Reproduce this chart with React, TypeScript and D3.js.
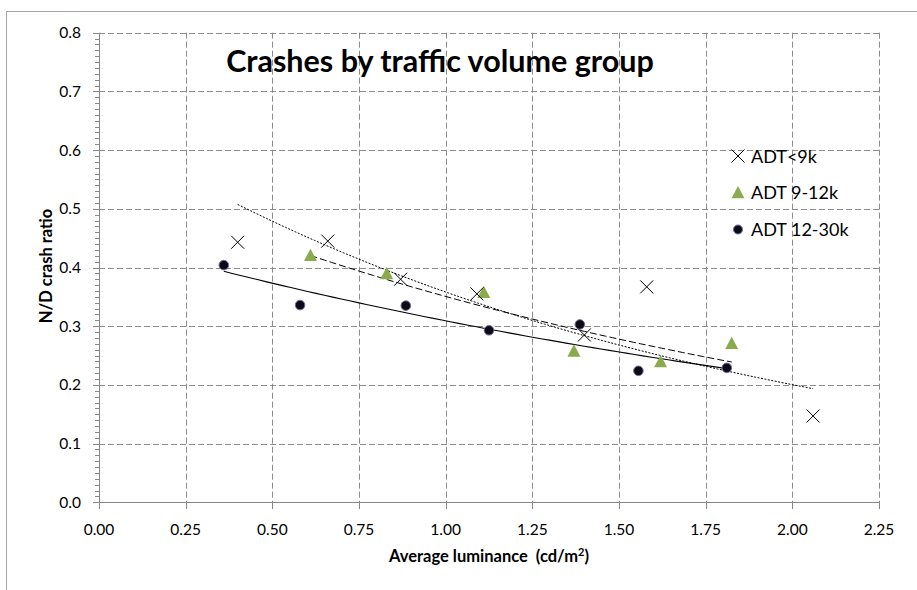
import React from "react";
import * as d3 from "d3";

const seriesNames = ["ADT<9k", "ADT 9-12k", "ADT 12-30k"];
const adtLow_x = [0.40, 0.66, 0.87, 1.09, 1.40, 1.58, 2.06];
const adtLow_y = [0.443, 0.445, 0.380, 0.355, 0.285, 0.367, 0.147];
const adtMid_x = [0.61, 0.83, 1.11, 1.37, 1.62, 1.825];
const adtMid_y = [0.421, 0.390, 0.358, 0.258, 0.240, 0.271];
const adtHigh_x = [0.36, 0.58, 0.885, 1.125, 1.387, 1.556, 1.811];
const adtHigh_y = [0.404, 0.336, 0.335, 0.293, 0.303, 0.224, 0.229];

const xTicks = [0, 0.25, 0.5, 0.75, 1.0, 1.25, 1.5, 1.75, 2.0, 2.25];
const yTicks = [0, 0.1, 0.2, 0.3, 0.4, 0.5, 0.6, 0.7, 0.8];

const W = 917;
const H = 590;
const FONT = "Lato, 'Open Sans', sans-serif";

const x = d3.scaleLinear().domain([0, 2.25]).range([99, 879]);
const y = d3.scaleLinear().domain([0, 0.8]).range([502.3, 32.7]);

function expFit(xs: number[], ys: number[]) {
  const ly = ys.map((v) => Math.log(v));
  const mx = d3.mean(xs) as number;
  const my = d3.mean(ly) as number;
  let sxy = 0, sxx = 0;
  xs.forEach((xv, i) => {
    sxy += (xv - mx) * (ly[i] - my);
    sxx += (xv - mx) * (xv - mx);
  });
  const b = sxy / sxx;
  const a = my - b * mx;
  const [x0, x1] = d3.extent(xs) as [number, number];
  const pts: [number, number][] = d3.range(0, 61).map((i) => {
    const xv = x0 + ((x1 - x0) * i) / 60;
    return [xv, Math.exp(a + b * xv)];
  });
  return pts;
}

const line = d3
  .line<[number, number]>()
  .x((d) => x(d[0]))
  .y((d) => y(d[1]));

const GREEN = "#8aab4c";

function XMark({ cx, cy, s = 6.5 }: { cx: number; cy: number; s?: number }) {
  return (
    <g stroke="#000" strokeWidth={1}>
      <line x1={cx - s} y1={cy - s} x2={cx + s} y2={cy + s} />
      <line x1={cx - s} y1={cy + s} x2={cx + s} y2={cy - s} />
    </g>
  );
}

function Tri({ cx, cy, s = 6.5 }: { cx: number; cy: number; s?: number }) {
  return (
    <path
      d={`M${cx},${cy - s} L${cx + s},${cy + s * 0.9} L${cx - s},${cy + s * 0.9} Z`}
      fill={GREEN}
    />
  );
}

function Dot({ cx, cy, r = 4.8 }: { cx: number; cy: number; r?: number }) {
  return <circle cx={cx} cy={cy} r={r} fill="#0b0b14" stroke="#7a68a8" strokeWidth={1} />;
}

export default function App() {
  const minorY = d3.range(0, 81).map((i) => i / 100);
  const gridColor = "#8c8c8c";
  const fitLow = expFit(adtLow_x, adtLow_y);
  const fitMid = expFit(adtMid_x, adtMid_y);
  const fitHigh = expFit(adtHigh_x, adtHigh_y);
  return (
    <div style={{ position: "fixed", left: 0, top: 0 }}>
      <svg width={W} height={H} style={{ display: "block", fontFamily: FONT }}>
        <rect x={0} y={0} width={W} height={H} fill="#fff" />
        <rect x={6.5} y={11.5} width={W + 20} height={H + 20} fill="none" stroke="#a6a6a6" strokeWidth={1} />
        {/* grid */}
        {yTicks.filter((t) => t > 0).map((t) => (
          <line key={"gy" + t} x1={x(0)} x2={x(2.25)} y1={Math.round(y(t)) + 0.5} y2={Math.round(y(t)) + 0.5}
            stroke={gridColor} strokeDasharray="6,3" strokeWidth={1} />
        ))}
        {xTicks.filter((t) => t > 0).map((t) => (
          <line key={"gx" + t} x1={Math.round(x(t)) + 0.5} x2={Math.round(x(t)) + 0.5} y1={y(0.8)} y2={y(0)}
            stroke={gridColor} strokeDasharray="6,3" strokeWidth={1} />
        ))}
        {/* axes */}
        <line x1={99.5} x2={99.5} y1={y(0.8)} y2={y(0)} stroke="#868686" strokeWidth={1} />
        <line x1={99} x2={879} y1={502.5} y2={502.5} stroke="#868686" strokeWidth={1} />
        {minorY.map((t) => (
          <line key={"my" + t} x1={95} x2={99} y1={Math.round(y(t)) + 0.5} y2={Math.round(y(t)) + 0.5} stroke="#868686" strokeWidth={1} />
        ))}
        {yTicks.map((t) => (
          <line key={"ty" + t} x1={93} x2={99} y1={Math.round(y(t)) + 0.5} y2={Math.round(y(t)) + 0.5} stroke="#868686" strokeWidth={1} />
        ))}
        {xTicks.map((t) => (
          <line key={"tx" + t} x1={Math.round(x(t)) + 0.5} x2={Math.round(x(t)) + 0.5} y1={502} y2={509} stroke="#868686" strokeWidth={1} />
        ))}
        {yTicks.map((t) => (
          <text key={"ly" + t} x={81} y={y(t) + 5.5} textAnchor="end" fontSize={15.5} fill="#000">
            {t.toFixed(1)}
          </text>
        ))}
        {xTicks.map((t) => (
          <text key={"lx" + t} x={x(t)} y={535} textAnchor="middle" fontSize={15.5} fill="#000">
            {t.toFixed(2)}
          </text>
        ))}
        {/* axis titles */}
        <text x={489} y={562} textAnchor="middle" fontSize={16.5} fontWeight="bold" fill="#000" style={{ whiteSpace: "pre" }}>
          {"Average luminance  (cd/m"}
          <tspan fontSize={11} dy={-6}>2</tspan>
          <tspan dy={6}>)</tspan>
        </text>
        <text transform={`translate(52,266) rotate(-90)`} textAnchor="middle" fontSize={16.5} fontWeight="bold" fill="#000">
          N/D crash ratio
        </text>
        {/* title */}
        <text x={440} y={72} textAnchor="middle" fontSize={30.5} fontWeight="bold" fill="#000">
          Crashes by traffic volume group
        </text>
        {/* trendlines */}
        <path d={line(fitLow) || ""} fill="none" stroke="#000" strokeWidth={1} strokeDasharray="2,1.5" />
        <path d={line(fitMid) || ""} fill="none" stroke="#000" strokeWidth={1} strokeDasharray="7,3" />
        <path d={line(fitHigh) || ""} fill="none" stroke="#000" strokeWidth={1.1} />
        {/* points */}
        {adtHigh_x.map((v, i) => (
          <Dot key={"h" + i} cx={x(v)} cy={y(adtHigh_y[i])} />
        ))}
        {adtMid_x.map((v, i) => (
          <Tri key={"m" + i} cx={x(v)} cy={y(adtMid_y[i])} />
        ))}
        {adtLow_x.map((v, i) => (
          <XMark key={"l" + i} cx={x(v)} cy={y(adtLow_y[i])} />
        ))}
        {/* legend */}
        <XMark cx={738} cy={156} s={6.5} />
        <text x={751} y={162.5} fontSize={18} fill="#000">{seriesNames[0]}</text>
        <Tri cx={738} cy={192.5} s={6.5} />
        <text x={751} y={199} fontSize={18} fill="#000">{seriesNames[1]}</text>
        <Dot cx={738} cy={229.5} r={4.5} />
        <text x={751} y={236} fontSize={18} fill="#000">{seriesNames[2]}</text>
      </svg>
    </div>
  );
}
